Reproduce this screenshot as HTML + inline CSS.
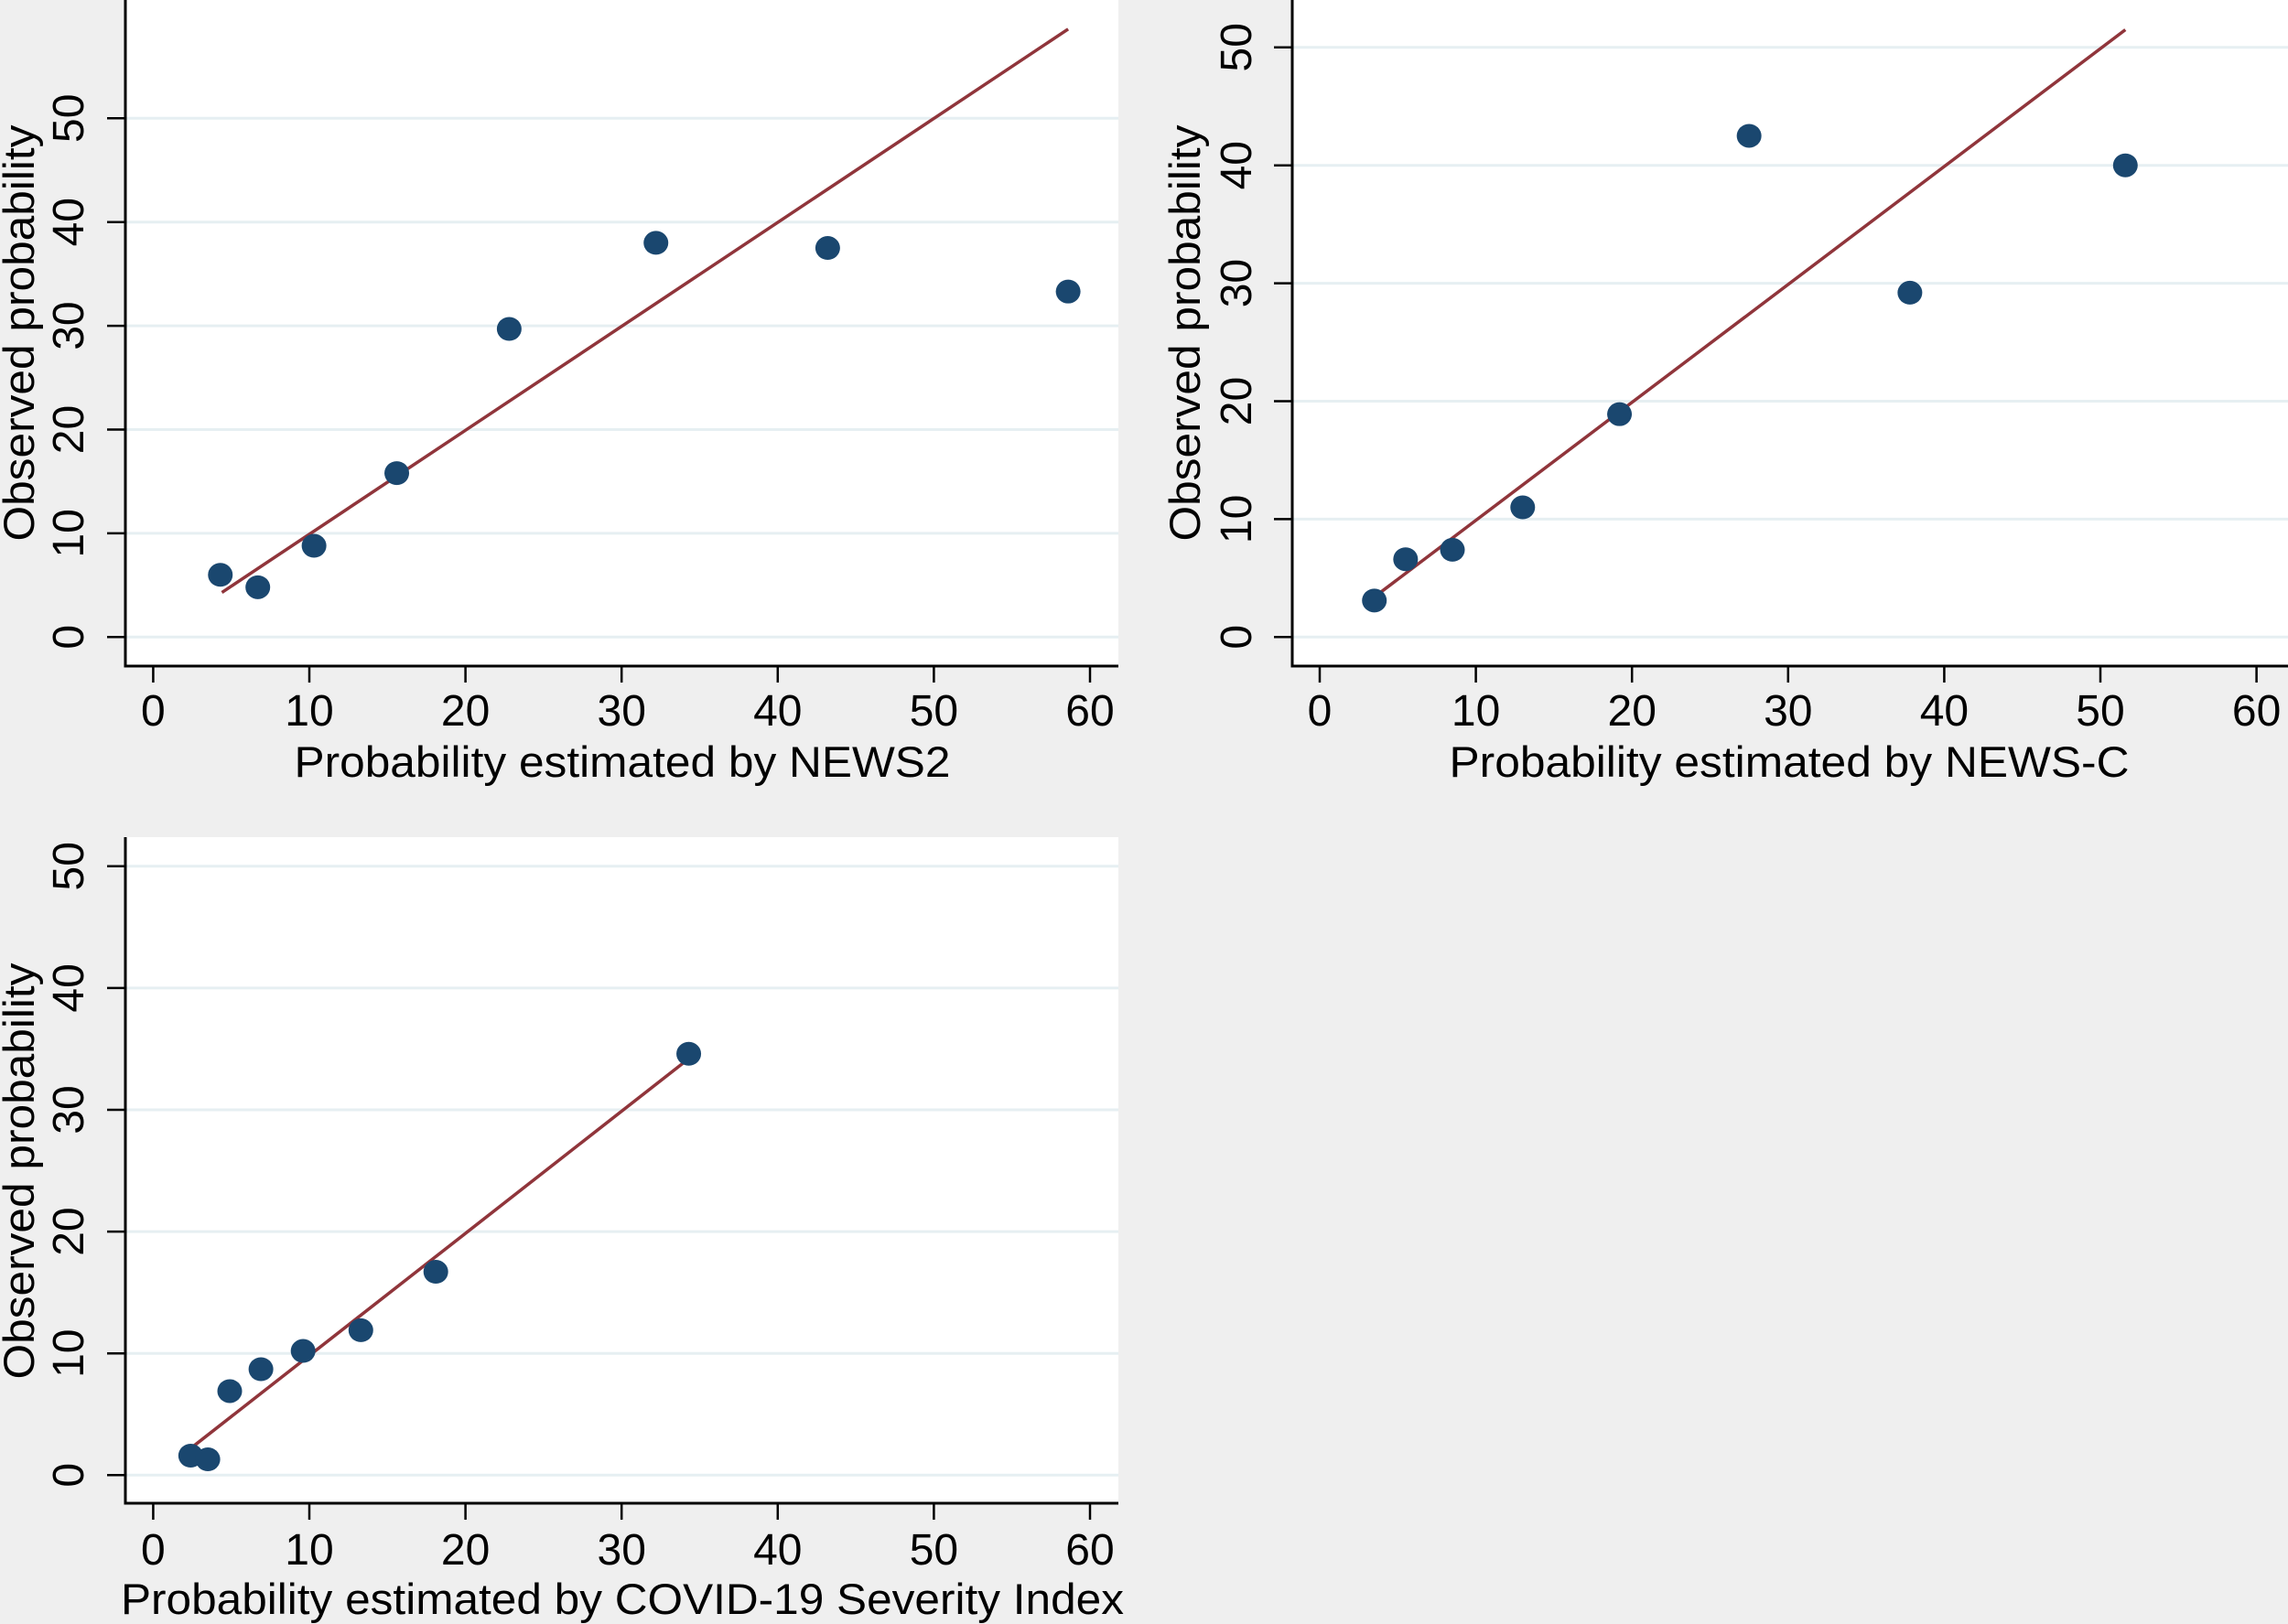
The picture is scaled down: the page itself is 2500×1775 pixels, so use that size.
<!DOCTYPE html>
<html><head><meta charset="utf-8"><style>
html,body{margin:0;padding:0;background:#efefef;overflow:hidden;}
svg{display:block;font-family:"Liberation Sans",Arial,sans-serif;}
</style></head><body>
<svg id="fig" width="2500" height="1775" viewBox="0 0 2500 1775" xmlns="http://www.w3.org/2000/svg">
<rect x="0" y="0" width="2500" height="1775" fill="#efefef"/>
</svg>
<script>
// Panel 1: NEWS2
const news2X = [4.3, 6.7, 10.3, 15.6, 22.8, 32.2, 43.2, 58.6];
const news2Y = [6.0, 4.8, 8.8, 15.8, 29.7, 38.0, 37.5, 33.3];
const news2Line = [[4.4, 4.3], [58.6, 58.6]];
// Panel 2: NEWS-C
const newscX = [3.5, 5.5, 8.5, 13.0, 19.2, 27.5, 37.8, 51.6];
const newscY = [3.1, 6.6, 7.4, 11.0, 18.9, 42.5, 29.2, 40.0];
const newscLine = [[3.6, 3.5], [51.6, 51.5]];
// Panel 3: COVID-19 Severity Index
const csiX = [2.4, 3.5, 4.9, 6.9, 9.6, 13.3, 18.1, 34.3];
const csiY = [1.6, 1.3, 6.9, 8.7, 10.2, 11.9, 16.7, 34.6];
const csiLine = [[2.5, 2.3], [34.3, 34.2]];
const xTicks = [0, 10, 20, 30, 40, 50, 60];
const yTicks = [0, 10, 20, 30, 40, 50];

const NS = "http://www.w3.org/2000/svg";
const svg = document.getElementById("fig");
function mk(tag, attrs, parent) {
  const e = document.createElementNS(NS, tag);
  for (const k in attrs) e.setAttribute(k, attrs[k]);
  (parent || svg).appendChild(e);
  return e;
}
function panel(p) {
  const g = mk("g", {});
  
  
  const sx = v => p.x0 + v * p.xs;
  const sy = v => p.y0 - v * p.ys;
  const bg = mk("rect", {x: p.left, y: p.top, width: p.right - p.left, height: p.axisY - p.top, fill: "#ffffff"}, g);
  
  
  yTicks.forEach(t => {
    const gl = mk("line", {x1: p.left, x2: p.right, y1: sy(t), y2: sy(t), stroke: "#e6eff2", "stroke-width": 3}, g);
    
    
    const tk = mk("line", {x1: p.left - 20, x2: p.left, y1: sy(t), y2: sy(t), stroke: "#000", "stroke-width": 2.5}, g);
    
    
    const lb = mk("text", {transform: `translate(${p.yLabX},${sy(t)}) rotate(-90)`, "text-anchor": "middle", "font-size": 48, fill: "#000", dy: "17"}, g);
    lb.textContent = t;
    
    
  });
  xTicks.forEach(t => {
    const tk = mk("line", {x1: sx(t), x2: sx(t), y1: p.axisY, y2: p.axisY + 18, stroke: "#000", "stroke-width": 2.5}, g);
    
    
    const lb = mk("text", {x: sx(t), y: p.xLabY, "text-anchor": "middle", "font-size": 48, fill: "#000", dy: "17"}, g);
    lb.textContent = t;
    
    
  });
  const ya = mk("line", {x1: p.left, x2: p.left, y1: p.top, y2: p.axisY + 1.5, stroke: "#000", "stroke-width": 3}, g);
  
  
  const xa = mk("line", {x1: p.left, x2: p.right, y1: p.axisY, y2: p.axisY, stroke: "#000", "stroke-width": 3}, g);
  
  
  const fit = mk("line", {x1: sx(p.line[0][0]), y1: sy(p.line[0][1]), x2: sx(p.line[1][0]), y2: sy(p.line[1][1]), stroke: "#90353b", "stroke-width": 3.5}, g);
  
  
  p.xs_.forEach((v, i) => {
    const c = mk("ellipse", {cx: sx(v), cy: sy(p.ys_[i]), rx: 13.5, ry: 13, fill: "#1a476f"}, g);
    
    
  });
  const xt = mk("text", {x: p.xTitleX, y: p.xTitleY, "text-anchor": "middle", "font-size": 47, fill: "#000", dy: "17", textLength: p.xTitleW, lengthAdjust: "spacingAndGlyphs"}, g);
  xt.textContent = p.xTitle;
  
  
  const yt = mk("text", {transform: `translate(${p.yTitleX},${p.yTitleY}) rotate(-90)`, "text-anchor": "middle", "font-size": 47, fill: "#000", dy: "17", textLength: 455, lengthAdjust: "spacingAndGlyphs"}, g);
  yt.textContent = "Observed probability";
  
  
}
panel({name: "news2-panel", left: 137, right: 1222, top: 0, axisY: 728, x0: 167.4, xs: 17.06, y0: 696.3, ys: 11.34,
  yLabX: 74, xLabY: 776, xTitle: "Probability estimated by NEWS2", xTitleX: 680, xTitleY: 832, xTitleW: 717,
  yTitleX: 20, yTitleY: 364, xs_: news2X, ys_: news2Y, line: news2Line});
panel({name: "news-c-panel", left: 1412, right: 2500, top: 0, axisY: 728, x0: 1442, xs: 17.06, y0: 696.3, ys: 12.89,
  yLabX: 1350, xLabY: 776, xTitle: "Probability estimated by NEWS-C", xTitleX: 1955, xTitleY: 832, xTitleW: 743,
  yTitleX: 1294, yTitleY: 364, xs_: newscX, ys_: newscY, line: newscLine});
panel({name: "covid-severity-panel", left: 137, right: 1222, top: 915, axisY: 1643, x0: 167.4, xs: 17.06, y0: 1612.3, ys: 13.31,
  yLabX: 74, xLabY: 1693, xTitle: "Probability estimated by COVID-19 Severity Index", xTitleX: 680, xTitleY: 1747, xTitleW: 1096,
  yTitleX: 20, yTitleY: 1280, xs_: csiX, ys_: csiY, line: csiLine});
</script>
</body></html>
